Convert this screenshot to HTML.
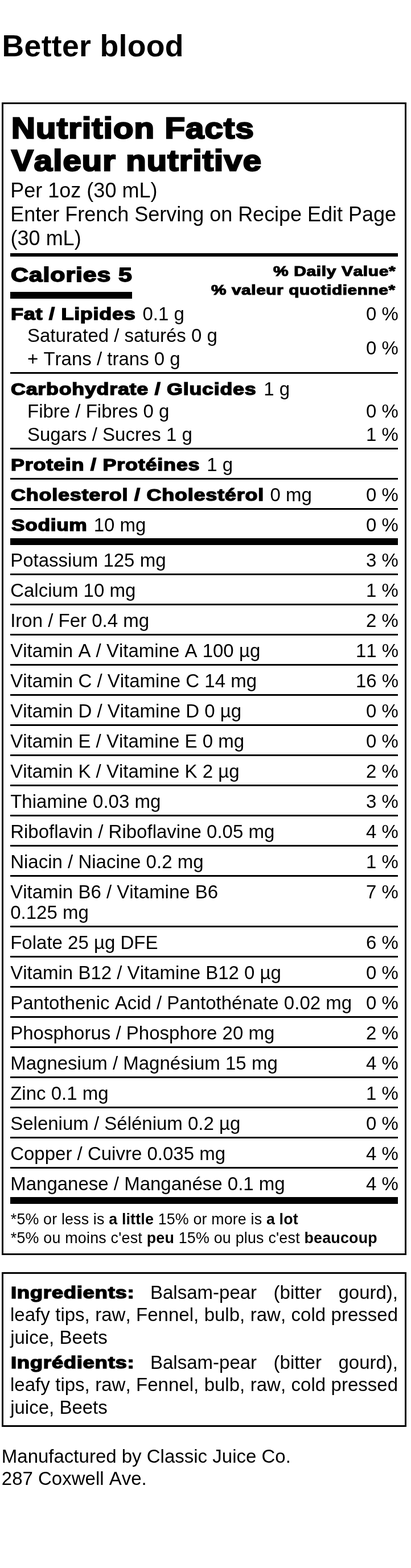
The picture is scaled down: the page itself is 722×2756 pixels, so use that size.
<!DOCTYPE html>
<html><head><meta charset="utf-8"><title>Better blood</title>
<style>
html,body{margin:0;padding:0;background:#fff}
body{width:722px;height:2756px;position:relative;overflow:hidden;font-family:'Liberation Sans', sans-serif;color:#000;font-kerning:none}
.t{position:absolute;white-space:nowrap;line-height:100px;transform-origin:0 0}
.r{position:absolute;background:#000}
.box{position:absolute;border:3px solid #000;box-sizing:border-box}
</style></head><body>
<div class="box" style="left:3px;top:180px;width:711px;height:2026px"></div>
<div class="box" style="left:3px;top:2236px;width:711px;height:272px"></div>
<div class="r" style="left:18px;top:1008px;width:681px;height:3px"></div>
<div class="r" style="left:18px;top:1061px;width:681px;height:3px"></div>
<div class="r" style="left:18px;top:1114px;width:681px;height:3px"></div>
<div class="r" style="left:18px;top:1167px;width:681px;height:3px"></div>
<div class="r" style="left:18px;top:1220px;width:681px;height:3px"></div>
<div class="r" style="left:18px;top:1273px;width:681px;height:3px"></div>
<div class="r" style="left:18px;top:1326px;width:681px;height:3px"></div>
<div class="r" style="left:18px;top:1379px;width:681px;height:3px"></div>
<div class="r" style="left:18px;top:1432px;width:681px;height:3px"></div>
<div class="r" style="left:18px;top:1485px;width:681px;height:3px"></div>
<div class="r" style="left:18px;top:1538px;width:681px;height:3px"></div>
<div class="r" style="left:18px;top:1627px;width:681px;height:3px"></div>
<div class="r" style="left:18px;top:1680px;width:681px;height:3px"></div>
<div class="r" style="left:18px;top:1733px;width:681px;height:3px"></div>
<div class="r" style="left:18px;top:1786px;width:681px;height:3px"></div>
<div class="r" style="left:18px;top:1839px;width:681px;height:3px"></div>
<div class="r" style="left:18px;top:1892px;width:681px;height:3px"></div>
<div class="r" style="left:18px;top:1945px;width:681px;height:3px"></div>
<div class="r" style="left:18px;top:1998px;width:681px;height:3px"></div>
<div class="r" style="left:18px;top:2051px;width:681px;height:3px"></div>
<div class="r" style="left:18px;top:445px;width:681px;height:6px"></div>
<div class="r" style="left:18px;top:513px;width:214px;height:12px"></div>
<div class="r" style="left:18px;top:654px;width:681px;height:3px"></div>
<div class="r" style="left:18px;top:787px;width:681px;height:3px"></div>
<div class="r" style="left:18px;top:840px;width:681px;height:3px"></div>
<div class="r" style="left:18px;top:893px;width:681px;height:3px"></div>
<div class="r" style="left:18px;top:946px;width:681px;height:12px"></div>
<div class="r" style="left:18px;top:2104px;width:681px;height:12px"></div>
<div class="t" style="top:30px;font-size:53.6px;font-weight:700;left:3.50px;letter-spacing:0.318px;">Better blood</div>
<div class="t h" style="top:175px;font-size:51.43px;font-weight:700;-webkit-text-stroke:2.57px #000;paint-order:stroke fill;left:19.60px;transform:scaleX(1.1282);letter-spacing:1.038px;">Nutrition Facts</div>
<div class="t h" style="top:232px;font-size:51.43px;font-weight:700;-webkit-text-stroke:2.57px #000;paint-order:stroke fill;left:19.50px;transform:scaleX(1.1257);letter-spacing:1.036px;">Valeur nutritive</div>
<div class="t" style="top:285px;font-size:36px;font-weight:400;left:18.30px;">Per 1oz (30 mL)</div>
<div class="t" style="top:327px;font-size:36px;font-weight:400;left:18.30px;letter-spacing:-0.015px;">Enter French Serving on Recipe Edit Page</div>
<div class="t" style="top:369px;font-size:36px;font-weight:400;left:18.60px;">(30 mL)</div>
<div class="t h" style="top:433px;font-size:35.14px;font-weight:700;-webkit-text-stroke:1.76px #000;paint-order:stroke fill;left:19.00px;transform:scaleX(1.2185);letter-spacing:0.748px;">Calories 5</div>
<div class="t h" style="top:427px;font-size:23.31px;font-weight:700;-webkit-text-stroke:1.17px #000;paint-order:stroke fill;left:480.30px;transform:scaleX(1.2869);letter-spacing:0.478px;">% Daily Value*</div>
<div class="t h" style="top:460px;font-size:23.31px;font-weight:700;-webkit-text-stroke:1.17px #000;paint-order:stroke fill;left:371.40px;transform:scaleX(1.2786);letter-spacing:0.465px;">% valeur quotidienne*</div>
<div class="t h" style="top:502px;font-size:30.14px;font-weight:700;-webkit-text-stroke:1.51px #000;paint-order:stroke fill;left:19.20px;transform:scaleX(1.1957);letter-spacing:0.606px;">Fat / Lipides</div>
<div class="t" style="top:502px;font-size:33px;font-weight:400;left:250.50px;">0.1 g</div>
<div class="t" style="top:502px;font-size:33px;font-weight:400;left:643.00px;">0 %</div>
<div class="t" style="top:540px;font-size:33px;font-weight:400;left:48.00px;">Saturated / saturés 0 g</div>
<div class="t" style="top:581px;font-size:33px;font-weight:400;left:48.00px;">+ Trans / trans 0 g</div>
<div class="t" style="top:562px;font-size:33px;font-weight:400;left:643.00px;">0 %</div>
<div class="t h" style="top:634px;font-size:30.14px;font-weight:700;-webkit-text-stroke:1.51px #000;paint-order:stroke fill;left:18.80px;transform:scaleX(1.1892);letter-spacing:0.635px;">Carbohydrate / Glucides</div>
<div class="t" style="top:634px;font-size:33px;font-weight:400;left:463.30px;">1 g</div>
<div class="t" style="top:673px;font-size:33px;font-weight:400;left:48.00px;">Fibre / Fibres 0 g</div>
<div class="t" style="top:673px;font-size:33px;font-weight:400;left:643.00px;">0 %</div>
<div class="t" style="top:714px;font-size:33px;font-weight:400;left:48.00px;">Sugars / Sucres 1 g</div>
<div class="t" style="top:714px;font-size:33px;font-weight:400;left:643.00px;">1 %</div>
<div class="t h" style="top:767px;font-size:30.14px;font-weight:700;-webkit-text-stroke:1.51px #000;paint-order:stroke fill;left:19.20px;transform:scaleX(1.1948);letter-spacing:0.632px;">Protein / Protéines</div>
<div class="t" style="top:767px;font-size:33px;font-weight:400;left:363.30px;">1 g</div>
<div class="t h" style="top:820px;font-size:30.14px;font-weight:700;-webkit-text-stroke:1.51px #000;paint-order:stroke fill;left:18.80px;transform:scaleX(1.1944);letter-spacing:0.638px;">Cholesterol / Cholestérol</div>
<div class="t" style="top:820px;font-size:33px;font-weight:400;left:474.60px;">0 mg</div>
<div class="t" style="top:820px;font-size:33px;font-weight:400;left:643.00px;">0 %</div>
<div class="t h" style="top:873px;font-size:30.14px;font-weight:700;-webkit-text-stroke:1.51px #000;paint-order:stroke fill;left:19.80px;transform:scaleX(1.1722);letter-spacing:0.563px;">Sodium</div>
<div class="t" style="top:873px;font-size:33px;font-weight:400;left:164.70px;">10 mg</div>
<div class="t" style="top:873px;font-size:33px;font-weight:400;left:643.00px;">0 %</div>
<div class="t" style="top:935px;font-size:33px;font-weight:400;left:18.20px;">Potassium 125 mg</div>
<div class="t" style="top:935px;font-size:33px;font-weight:400;left:643.00px;">3 %</div>
<div class="t" style="top:988px;font-size:33px;font-weight:400;left:18.20px;">Calcium 10 mg</div>
<div class="t" style="top:988px;font-size:33px;font-weight:400;left:643.00px;">1 %</div>
<div class="t" style="top:1041px;font-size:33px;font-weight:400;left:18.20px;">Iron / Fer 0.4 mg</div>
<div class="t" style="top:1041px;font-size:33px;font-weight:400;left:643.00px;">2 %</div>
<div class="t" style="top:1094px;font-size:33px;font-weight:400;left:18.20px;">Vitamin A / Vitamine A 100 µg</div>
<div class="t" style="top:1094px;font-size:33px;font-weight:400;left:625.00px;">11 %</div>
<div class="t" style="top:1147px;font-size:33px;font-weight:400;left:18.20px;">Vitamin C / Vitamine C 14 mg</div>
<div class="t" style="top:1147px;font-size:33px;font-weight:400;left:625.00px;">16 %</div>
<div class="t" style="top:1200px;font-size:33px;font-weight:400;left:18.20px;">Vitamin D / Vitamine D 0 µg</div>
<div class="t" style="top:1200px;font-size:33px;font-weight:400;left:643.00px;">0 %</div>
<div class="t" style="top:1253px;font-size:33px;font-weight:400;left:18.20px;">Vitamin E / Vitamine E 0 mg</div>
<div class="t" style="top:1253px;font-size:33px;font-weight:400;left:643.00px;">0 %</div>
<div class="t" style="top:1306px;font-size:33px;font-weight:400;left:18.20px;">Vitamin K / Vitamine K 2 µg</div>
<div class="t" style="top:1306px;font-size:33px;font-weight:400;left:643.00px;">2 %</div>
<div class="t" style="top:1359px;font-size:33px;font-weight:400;left:18.20px;">Thiamine 0.03 mg</div>
<div class="t" style="top:1359px;font-size:33px;font-weight:400;left:643.00px;">3 %</div>
<div class="t" style="top:1412px;font-size:33px;font-weight:400;left:18.20px;">Riboflavin / Riboflavine 0.05 mg</div>
<div class="t" style="top:1412px;font-size:33px;font-weight:400;left:643.00px;">4 %</div>
<div class="t" style="top:1465px;font-size:33px;font-weight:400;left:18.20px;">Niacin / Niacine 0.2 mg</div>
<div class="t" style="top:1465px;font-size:33px;font-weight:400;left:643.00px;">1 %</div>
<div class="t" style="top:1518px;font-size:33px;font-weight:400;left:18.20px;">Vitamin B6 / Vitamine B6</div>
<div class="t" style="top:1518px;font-size:33px;font-weight:400;left:643.00px;">7 %</div>
<div class="t" style="top:1554px;font-size:33px;font-weight:400;left:18.20px;">0.125 mg</div>
<div class="t" style="top:1607px;font-size:33px;font-weight:400;left:18.20px;">Folate 25 µg DFE</div>
<div class="t" style="top:1607px;font-size:33px;font-weight:400;left:643.00px;">6 %</div>
<div class="t" style="top:1660px;font-size:33px;font-weight:400;left:18.20px;">Vitamin B12 / Vitamine B12 0 µg</div>
<div class="t" style="top:1660px;font-size:33px;font-weight:400;left:643.00px;">0 %</div>
<div class="t" style="top:1713px;font-size:33px;font-weight:400;left:18.20px;">Pantothenic Acid / Pantothénate 0.02 mg</div>
<div class="t" style="top:1713px;font-size:33px;font-weight:400;left:643.00px;">0 %</div>
<div class="t" style="top:1766px;font-size:33px;font-weight:400;left:18.20px;">Phosphorus / Phosphore 20 mg</div>
<div class="t" style="top:1766px;font-size:33px;font-weight:400;left:643.00px;">2 %</div>
<div class="t" style="top:1819px;font-size:33px;font-weight:400;left:18.20px;">Magnesium / Magnésium 15 mg</div>
<div class="t" style="top:1819px;font-size:33px;font-weight:400;left:643.00px;">4 %</div>
<div class="t" style="top:1872px;font-size:33px;font-weight:400;left:18.20px;">Zinc 0.1 mg</div>
<div class="t" style="top:1872px;font-size:33px;font-weight:400;left:643.00px;">1 %</div>
<div class="t" style="top:1925px;font-size:33px;font-weight:400;left:18.20px;">Selenium / Sélénium 0.2 µg</div>
<div class="t" style="top:1925px;font-size:33px;font-weight:400;left:643.00px;">0 %</div>
<div class="t" style="top:1978px;font-size:33px;font-weight:400;left:18.20px;">Copper / Cuivre 0.035 mg</div>
<div class="t" style="top:1978px;font-size:33px;font-weight:400;left:643.00px;">4 %</div>
<div class="t" style="top:2031px;font-size:33px;font-weight:400;left:18.20px;">Manganese / Manganése 0.1 mg</div>
<div class="t" style="top:2031px;font-size:33px;font-weight:400;left:643.00px;">4 %</div>
<div class="t" style="top:2093px;font-size:26.8px;font-weight:400;left:18.80px;letter-spacing:0.174px;">*5% or less is <b>a little</b> 15% or more is <b>a lot</b></div>
<div class="t" style="top:2126px;font-size:26.8px;font-weight:400;left:18.80px;letter-spacing:0.231px;">*5% ou moins c'est <b>peu</b> 15% ou plus c'est <b>beaucoup</b></div>
<div class="t h" style="top:2222px;font-size:30.14px;font-weight:700;-webkit-text-stroke:1.51px #000;paint-order:stroke fill;left:19.00px;transform:scaleX(1.2145);letter-spacing:0.546px;">Ingredients:</div>
<div class="t" style="top:2222px;font-size:33px;font-weight:400;left:264.00px;width:435px;white-space:normal;text-align:justify;text-align-last:justify;">Balsam-pear (bitter gourd),</div>
<div class="t" style="top:2261px;font-size:33px;font-weight:400;left:18.00px;width:681px;white-space:normal;text-align:justify;text-align-last:justify;">leafy tips, raw, Fennel, bulb, raw, cold pressed</div>
<div class="t" style="top:2301px;font-size:33px;font-weight:400;left:18.20px;">juice, Beets</div>
<div class="t h" style="top:2345px;font-size:30.14px;font-weight:700;-webkit-text-stroke:1.51px #000;paint-order:stroke fill;left:19.00px;transform:scaleX(1.2145);letter-spacing:0.546px;">Ingrédients:</div>
<div class="t" style="top:2345px;font-size:33px;font-weight:400;left:264.00px;width:435px;white-space:normal;text-align:justify;text-align-last:justify;">Balsam-pear (bitter gourd),</div>
<div class="t" style="top:2384px;font-size:33px;font-weight:400;left:18.00px;width:681px;white-space:normal;text-align:justify;text-align-last:justify;">leafy tips, raw, Fennel, bulb, raw, cold pressed</div>
<div class="t" style="top:2424px;font-size:33px;font-weight:400;left:18.20px;">juice, Beets</div>
<div class="t" style="top:2510px;font-size:33px;font-weight:400;left:2.80px;">Manufactured by Classic Juice Co.</div>
<div class="t" style="top:2549px;font-size:33px;font-weight:400;left:2.80px;">287 Coxwell Ave.</div>
<!--EXTRA-->
</body></html>
